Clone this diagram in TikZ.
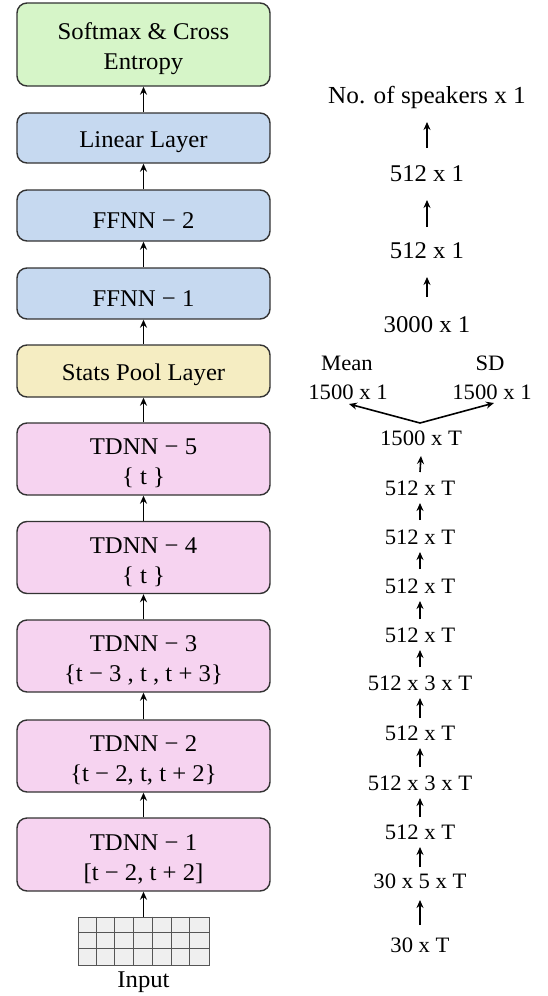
\documentclass[tikz,border=0pt]{standalone}
\usepackage{fontspec}
\setmainfont{Liberation Serif}[FakeStretch=1.03]
\usetikzlibrary{arrows.meta}

\definecolor{boxline}{HTML}{333333}
\definecolor{lossfill}{HTML}{D6F5C8}
\definecolor{densefill}{HTML}{C6D9F0}
\definecolor{poolfill}{HTML}{F5EDC2}
\definecolor{tdnnfill}{HTML}{F6D3F0}
\definecolor{cellfill}{HTML}{EFEFEF}
\definecolor{cellline}{HTML}{555555}

% tall strut that lowers the text block inside a layer box
\newcommand{\layerstrut}{\rule{0pt}{25pt}}

\tikzset{
  layer/.style={draw=boxline, line width=1.4pt, rounded corners=10pt,
    minimum width=253pt, align=center, inner sep=0pt,
    font=\fontsize{24}{30}\selectfont},
  arr/.style={line width=1.6pt, -{Stealth[length=8pt,width=7pt]}},
  biglbl/.style={inner sep=0pt, font=\fontsize{24}{26}\selectfont},
  dimlbl/.style={inner sep=0pt, font=\fontsize{22}{24}\selectfont},
}

\begin{document}
\begin{tikzpicture}[x=1pt,y=-1pt]
\useasboundingbox (0,0) rectangle (548,996);

% network layers (left column)
\node[layer, fill=lossfill,  minimum height=83pt] (soft) at (143.5,44.5) {\layerstrut Softmax \& Cross\\Entropy};
\node[layer, fill=densefill, minimum height=50pt] (lin)  at (143.5,138)  {\layerstrut Linear Layer};
\node[layer, fill=densefill, minimum height=51pt] (ff2)  at (143.5,215.5) {\layerstrut FFNN − 2};
\node[layer, fill=densefill, minimum height=51pt] (ff1)  at (143.5,293.5) {\layerstrut FFNN − 1};
\node[layer, fill=poolfill,  minimum height=52pt] (pool) at (143.5,371)  {\layerstrut Stats Pool Layer};
\node[layer, fill=tdnnfill,  minimum height=72pt] (td5)  at (143.5,459)  {\layerstrut TDNN − 5\\\{ t \}};
\node[layer, fill=tdnnfill,  minimum height=72pt] (td4)  at (143.5,557.5) {\layerstrut TDNN − 4\\\{ t \}};
\node[layer, fill=tdnnfill,  minimum height=72pt] (td3)  at (143.5,656)  {\layerstrut TDNN − 3\\\{t − 3 , t , t + 3\}};
\node[layer, fill=tdnnfill,  minimum height=72pt] (td2)  at (143.5,756)  {\layerstrut TDNN − 2\\\{t − 2, t, t + 2\}};
\node[layer, fill=tdnnfill,  minimum height=73pt] (td1)  at (143.5,854.5) {\layerstrut TDNN − 1\\{[t − 2, t + 2]}};

% input feature grid
\node[draw=cellline, fill=cellfill, line width=1pt, minimum width=131pt,
      minimum height=48pt, inner sep=0pt] (inp) at (143.5,941) {};
\draw[cellline, line width=1pt]
  \foreach \i in {1,...,6} { ([xshift=\i*18.714pt]inp.north west) -- ([xshift=\i*18.714pt]inp.south west) }
  \foreach \j in {1,2} { ([yshift=-\j*16pt]inp.north west) -- ([yshift=-\j*16pt]inp.north east) };
\node[biglbl] (inlbl) at (143.5,982) {Input};

% flow through the layers
\draw[arr] (inp.north) -- (td1.south);
\draw[arr] (td1.north) -- (td2.south);
\draw[arr] (td2.north) -- (td3.south);
\draw[arr] (td3.north) -- (td4.south);
\draw[arr] (td4.north) -- (td5.south);
\draw[arr] (td5.north) -- (pool.south);
\draw[arr] (pool.north) -- (ff1.south);
\draw[arr] (ff1.north) -- (ff2.south);
\draw[arr] (ff2.north) -- (lin.south);
\draw[arr] (lin.north) -- (soft.south);

% tensor sizes (right column)
\node[biglbl, font=\fontsize{24.5}{26}\selectfont] (dspk) at (427,97) {No. of speakers x 1};
\node[biglbl] (d512b) at (427,174) {512 x 1};
\node[biglbl] (d512a) at (427,251) {512 x 1};
\node[biglbl] (d3000) at (427,325) {3000 x 1};

\node[dimlbl] (mean)  at (347,363) {Mean};
\node[dimlbl] (meanv) at (348,392) {1500 x 1};
\node[dimlbl] (sd)    at (490,363) {SD};
\node[dimlbl] (sdv)   at (492,392) {1500 x 1};
\coordinate (split) at (420,423);
\coordinate (meantip) at (349,404);
\coordinate (sdtip) at (494,403);

\node[dimlbl] (d1500) at (421,438) {1500 x T};
\node[dimlbl] (t5) at (420,488) {512 x T};
\node[dimlbl] (t4) at (420,537) {512 x T};
\node[dimlbl] (t3) at (420,586) {512 x T};
\node[dimlbl] (t3o) at (420,635) {512 x T};
\node[dimlbl] (t3i) at (420,683) {512 x 3 x T};
\node[dimlbl] (t2o) at (420,733) {512 x T};
\node[dimlbl] (t2i) at (420,783) {512 x 3 x T};
\node[dimlbl] (t1o) at (420,832) {512 x T};
\node[dimlbl] (t1i) at (420,881) {30 x 5 x T};
\node[dimlbl] (tin) at (420,945) {30 x T};

\draw[arr] ([yshift=26pt]d512b.center) -- ([yshift=-25pt]dspk.center);
\draw[arr] ([yshift=24pt]d512a.center) -- ([yshift=-26pt]d512b.center);
\draw[arr] ([yshift=28pt]d3000.center) -- ([yshift=-26pt]d512a.center);

\draw[arr] (split) -- (meantip);
\draw[arr] (split) -- (sdtip);

\draw[arr] ([yshift=16pt]t5.center)  -- ([yshift=-18pt]d1500.center);
\draw[arr] ([yshift=17pt]t4.center)  -- ([yshift=-15pt]t5.center);
\draw[arr] ([yshift=17pt]t3.center)  -- ([yshift=-15pt]t4.center);
\draw[arr] ([yshift=16pt]t3o.center) -- ([yshift=-15pt]t3.center);
\draw[arr] ([yshift=16pt]t3i.center) -- ([yshift=-15pt]t3o.center);
\draw[arr] ([yshift=15pt]t2o.center) -- ([yshift=-15pt]t3i.center);
\draw[arr] ([yshift=16pt]t2i.center) -- ([yshift=-15pt]t2o.center);
\draw[arr] ([yshift=15pt]t1o.center) -- ([yshift=-15pt]t2i.center);
\draw[arr] ([yshift=14pt]t1i.center) -- ([yshift=-15pt]t1o.center);
\draw[arr] ([yshift=20pt]tin.center) -- ([yshift=-19pt]t1i.center);
\end{tikzpicture}
\end{document}
